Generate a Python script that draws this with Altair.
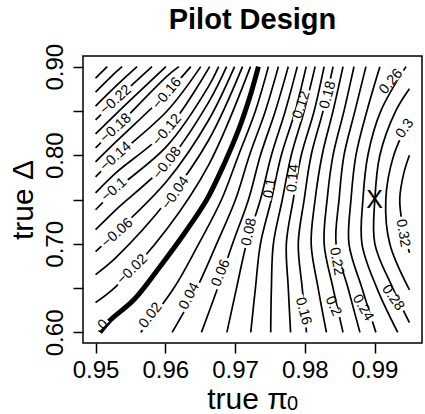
import altair as alt
import pandas as pd

# ---------------- data ----------------
X_DOMAIN = [0.9482, 0.9968]
Y_DOMAIN = [0.588, 0.912]
X_TICKS = [0.95, 0.96, 0.97, 0.98, 0.99]
Y_TICKS = [0.60, 0.65, 0.70, 0.75, 0.80, 0.85, 0.90]

# level 0 (thick line): (pi0, delta)
ZERO_LINE = [(0.95063, 0.600), (0.95195, 0.6126), (0.95552, 0.6371), (0.95923, 0.6742),
             (0.96280, 0.7125), (0.96593, 0.7497), (0.96850, 0.7913), (0.97050, 0.8285),
             (0.97207, 0.8645), (0.97335, 0.900)]

# negative levels: traced points (pi0, delta)
NEG_LINES = {
    -0.02: [(0.95, 0.6337), (0.95291, 0.6517), (0.96025, 0.7170), (0.96622, 0.7891), (0.97221, 0.90)],
    -0.04: [(0.95, 0.6652), (0.95291, 0.6844), (0.96025, 0.7485), (0.96622, 0.8172), (0.97107, 0.90)],
    -0.06: [(0.95, 0.6911), (0.95291, 0.7125), (0.96025, 0.7711), (0.96622, 0.8398), (0.96993, 0.90)],
    -0.08: [(0.95, 0.7159), (0.95291, 0.7384), (0.96025, 0.7913), (0.96622, 0.8600), (0.96879, 0.90)],
    -0.10: [(0.95, 0.7384), (0.95291, 0.7609), (0.96025, 0.8105), (0.96622, 0.8780), (0.96765, 0.90)],
    -0.12: [(0.95, 0.7575), (0.95291, 0.7801), (0.96025, 0.8285), (0.96636, 0.90)],
    -0.14: [(0.95, 0.7756), (0.95291, 0.7981), (0.96025, 0.8499), (0.96508, 0.90)],
    -0.16: [(0.95, 0.7925), (0.95291, 0.8150), (0.96025, 0.8702), (0.96365, 0.90)],
    -0.18: [(0.95, 0.8082), (0.95291, 0.8307), (0.96025, 0.8893), (0.96194, 0.90)],
    -0.20: [(0.95, 0.8240), (0.95291, 0.8465), (0.96009, 0.90)],
    -0.22: [(0.95, 0.8398), (0.95291, 0.8623), (0.95809, 0.90)],
    -0.24: [(0.95, 0.8555), (0.95291, 0.8780), (0.95595, 0.90)],
    -0.26: [(0.95, 0.8713), (0.95291, 0.8938), (0.95381, 0.90)],
    -0.28: [(0.95, 0.8871), (0.95167, 0.90)],
}

# positive levels: pi0 where each line crosses these delta rows
ROWS = [0.60, 0.65, 0.70, 0.75, 0.80, 0.85, 0.90]
POS_LINES = {
    0.02: [0.95648, 0.96123, 0.96479, 0.96807, 0.97050, 0.97292, 0.97478],
    0.04: [0.96098, 0.96451, 0.96736, 0.97007, 0.97207, 0.97435, 0.97621],
    0.06: [0.96518, 0.96750, 0.96964, 0.97193, 0.97364, 0.97578, 0.97763],
    0.08: [0.96883, 0.97021, 0.97164, 0.97364, 0.97521, 0.97720, 0.97892],
    0.10: [0.97225, 0.97292, 0.97364, 0.97521, 0.97663, 0.97863, 0.98020],
    0.12: [0.97511, 0.97521, 0.97549, 0.97678, 0.97806, 0.97991, 0.98148],
    0.14: [0.97796, 0.97763, 0.97735, 0.97835, 0.97949, 0.98134, 0.98277],
    0.16: [0.98024, 0.97963, 0.97906, 0.97991, 0.98091, 0.98262, 0.98405],
    0.18: [0.98310, 0.98191, 0.98091, 0.98148, 0.98248, 0.98405, 0.98548],
    0.20: [0.98548, 0.98405, 0.98277, 0.98320, 0.98405, 0.98562, 0.98705],
    0.22: [0.98790, 0.98619, 0.98448, 0.98491, 0.98562, 0.98719, 0.98876],
    0.24: [0.99019, 0.98819, 0.98633, 0.98662, 0.98733, 0.98890, 0.99076],
    0.26: [0.99332, 0.99033, 0.98819, 0.98833, 0.98904, 0.99090, 0.99451],
}

# lines that leave through the right edge: (pi0, delta)
EDGE_LINES = {
    0.28: [(0.995, 0.611), (0.99261, 0.65), (0.99004, 0.70), (0.99004, 0.75), (0.99076, 0.80),
           (0.99304, 0.85), (0.995, 0.875)],
    0.30: [(0.995, 0.648), (0.99218, 0.70), (0.99161, 0.75), (0.99275, 0.80), (0.995, 0.84)],
    0.32: [(0.995, 0.690), (0.99404, 0.72), (0.99361, 0.75), (0.99420, 0.78), (0.995, 0.80)],
}

# contour labels: text, pi0, delta, angle (degrees, clockwise)
LABEL_TEXT = ["\u22120.22", "\u22120.18", "\u22120.14", "\u22120.1", "\u22120.06", "\u22120.02",
              "\u22120.16", "\u22120.12", "\u22120.08", "\u22120.04",
              "0", "0.02", "0.04", "0.06", "0.08", "0.1", "0.14", "0.12", "0.18",
              "0.16", "0.2", "0.22", "0.24", "0.28", "0.32", "0.26", "0.3"]
LABEL_PI0 = [0.95291, 0.95291, 0.95291, 0.95267, 0.95314, 0.95528,
             0.96027, 0.96027, 0.96027, 0.96147,
             0.9511, 0.9579, 0.96347, 0.9680, 0.97203, 0.97502, 0.97835, 0.97953, 0.98334,
             0.97976, 0.98405, 0.98452, 0.98831, 0.99262, 0.99404, 0.99238, 0.99436]
LABEL_DELTA = [0.8622, 0.8304, 0.7984, 0.7609, 0.7122, 0.6708,
               0.8698, 0.8285, 0.7910, 0.7572,
               0.6084, 0.619, 0.6408, 0.667, 0.7133, 0.7628, 0.774, 0.8566, 0.8679,
               0.6239, 0.6295, 0.6802, 0.6277, 0.639, 0.712, 0.883, 0.830]
LABEL_ANGLE = [-42, -42, -42, -42, -42, -45,
               -50, -50, -52, -55,
               -45, -52, -62, -68, -78, -80, -85, -72, -75,
               75, 65, 80, 60, 55, 80, -50, -55]

MARK_PI0 = [0.99]
MARK_DELTA = [0.75]

# ---------------- build tables ----------------
rows = []
for lvl, pts in NEG_LINES.items():
    for i, (p, d) in enumerate(pts):
        rows.append({"level": lvl, "i": i, "pi0": p, "delta": d})
for lvl, vals in POS_LINES.items():
    for i, (p, d) in enumerate(zip(vals, ROWS)):
        rows.append({"level": lvl, "i": i, "pi0": p, "delta": d})
for lvl, pts in EDGE_LINES.items():
    for i, (p, d) in enumerate(pts):
        rows.append({"level": lvl, "i": i, "pi0": p, "delta": d})
thin_df = pd.DataFrame(rows)
zero_df = pd.DataFrame([{"level": 0.0, "i": i, "pi0": p, "delta": d}
                        for i, (p, d) in enumerate(ZERO_LINE)])

FS = 14.4
CHAR_W = {"\u2212": 0.584, ".": 0.278}


def text_w(t):
    return FS * sum(CHAR_W.get(c, 0.556) for c in t) + 5


lab_df = pd.DataFrame({
    "label": LABEL_TEXT, "pi0": LABEL_PI0, "delta": LABEL_DELTA,
    "ang": [a % 360 for a in LABEL_ANGLE],
    "msize": [text_w(t) ** 2 for t in LABEL_TEXT],
})
mark_df = pd.DataFrame({"pi0": MARK_PI0, "delta": MARK_DELTA, "t": ["X"]})

FONT = "Liberation Sans"

xs = alt.Scale(domain=X_DOMAIN, nice=False, zero=False)
ys = alt.Scale(domain=Y_DOMAIN, nice=False, zero=False)

x_axis = alt.Axis(values=X_TICKS, format=".2f", title="true \u03c0",
                  labelFont=FONT, labelFontSize=24, labelColor="black", labelPadding=5,
                  labelFlush=False, labelOverlap=False,
                  tickColor="black", tickSize=10, tickWidth=1.5, domain=False, grid=False,
                  titleFont=FONT, titleFontSize=30, titleFontWeight="normal", titleColor="black",
                  titleX=164, titleY=65, titleAlign="center", titleBaseline="alphabetic")
y_axis = alt.Axis(values=Y_TICKS,
                  labelExpr="round(datum.value*100) % 10 == 0 ? format(datum.value, '.2f') : ''",
                  labelFont=FONT, labelFontSize=24, labelColor="black", labelAngle=270,
                  labelAlign="center", labelBaseline="alphabetic", labelPadding=11,
                  labelFlush=False, labelOverlap=False,
                  tickColor="black", tickSize=10, tickWidth=1.5, domain=False, grid=False,
                  title="true \u0394", titleFont=FONT, titleFontSize=30, titleFontWeight="normal",
                  titleColor="black", titleAngle=270, titleX=-51, titleY=143.5,
                  titleAlign="center", titleBaseline="alphabetic")

X = alt.X("pi0:Q", scale=xs, axis=x_axis)
Y = alt.Y("delta:Q", scale=ys, axis=y_axis)

thin = alt.Chart(thin_df).mark_line(color="black", strokeWidth=1.7, interpolate="catmull-rom",
                                    clip=True).encode(
    x=X, y=Y, detail="level:N", order="i:Q")
thick = alt.Chart(zero_df).mark_line(color="black", strokeWidth=5, interpolate="catmull-rom",
                                     clip=True).encode(
    x=X, y=Y, order="i:Q")
masks = alt.Chart(lab_df).mark_point(shape="M-1,-0.25L1,-0.25L1,0.25L-1,0.25Z", filled=True,
                                     color="white", opacity=1, strokeWidth=0).encode(
    x=X, y=Y, size=alt.Size("msize:Q", scale=None, legend=None),
    angle=alt.Angle("ang:Q", scale=None))
labels = alt.Chart(lab_df).mark_text(font=FONT, fontSize=FS, color="black", align="center",
                                     baseline="middle").encode(
    x=X, y=Y, text="label:N", angle=alt.Angle("ang:Q", scale=None))
xmark = alt.Chart(mark_df).mark_text(font=FONT, fontSize=25, color="black", align="center",
                                     baseline="middle").encode(x=X, y=Y, text="t:N")
sub = alt.Chart(pd.DataFrame({"t": ["0"]})).mark_text(
    font=FONT, fontSize=20, color="black", align="left", baseline="alphabetic").encode(
    text="t:N", x=alt.value(204), y=alt.value(354))
title = alt.Chart(pd.DataFrame({"t": ["Pilot Design"]})).mark_text(
    font=FONT, fontSize=29, fontWeight="bold", color="black", align="center",
    baseline="alphabetic").encode(text="t:N", x=alt.value(169.5), y=alt.value(-27))

chart = alt.layer(thin, thick, masks, labels, xmark, sub, title).properties(
    width=339, height=287,
    padding={"left": 83, "top": 56, "right": 3, "bottom": 71},
    autosize=alt.AutoSizeParams(type="none"),
    background="white",
).configure_view(stroke="black", strokeWidth=1.5)

chart.save("out.html", embed_options={"renderer": "svg", "actions": False})
